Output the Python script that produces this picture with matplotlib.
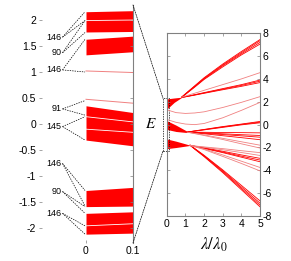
import matplotlib.pyplot as plt
from matplotlib.patches import Rectangle, ConnectionPatch

plt.rcParams['font.family'] = ['Liberation Sans', 'DejaVu Sans']
plt.rcParams['mathtext.fontset'] = 'stix'

RED = '#ff0000'
LIGHT = '#f08080'

# left panel: bands at lambda = 0 (edges at x=0 and x=0.1)
band_x = [0, 0.1]
band_top = [(2.16, 2.18), (1.63, 1.69), (0.35, 0.22), (-1.28, -1.22), (-1.72, -1.69)]
band_bot = [(1.77, 1.78), (1.33, 1.39), (-0.31, -0.42), (-1.59, -1.58), (-2.12, -2.10)]
gap_lines = [(1.99, 2.00), (0.14, 0.04), (-0.10, -0.16), (-1.96, -1.92)]
single_lines = [(1.02, 0.99), (0.475, 0.40)]

# state counts and the levels they point to
count_labels = ['146', '90', '146', '91', '145', '146', '90', '146']
count_y = [1.67, 1.37, 1.04, 0.29, -0.05, -0.76, -1.30, -1.72]
count_targets = [(2.16, 1.99), (1.99, 1.76), (1.63, 1.00), (0.45, 0.17),
                 (0.14, -0.31), (-1.28, -1.58), (-1.59, -1.72), (-1.96, -2.12)]

# right panel: spectrum vs lambda/lambda0
w1_lam = [0, 0.4, 0.8]
w1_top = [2.25, 2.33, 2.40]
w1_bot = [1.35, 1.95, 2.38]
w2_lam = [0, 0.5, 1.0, 1.15]
w2_top = [0.35, -0.05, -0.50, -0.63]
w2_bot = [-0.42, -0.60, -0.68, -0.66]
w3_lam = [0, 0.5, 1.0, 1.25]
w3_top = [-1.25, -1.45, -1.68, -1.80]
w3_bot = [-2.10, -2.00, -1.88, -1.82]

lam_a = [0.8, 1, 1.5, 2, 3, 4, 5]
steep_up = [[2.40, 2.70, 3.40, 4.10, 5.30, 6.40, 7.45],
            [2.40, 2.68, 3.36, 4.05, 5.22, 6.30, 7.35],
            [2.40, 2.66, 3.32, 4.00, 5.15, 6.20, 7.20],
            [2.40, 2.64, 3.28, 3.95, 5.05, 6.10, 7.05]]
shallow_up = [[2.38, 2.45, 2.62, 2.80, 3.15, 3.50, 3.90],
              [2.38, 2.44, 2.60, 2.77, 3.10, 3.43, 3.80],
              [2.38, 2.43, 2.58, 2.74, 3.05, 3.35, 3.68]]
light_up = [[2.40, 2.50, 2.75, 3.00, 3.50, 4.00, 4.55]]

lam_b = [0, 0.5, 1, 1.5, 2, 3, 4, 5]
light_mid = [[1.30, 1.05, 0.98, 1.02, 1.12, 1.50, 1.95, 2.45],
             [0.45, 0.20, 0.05, 0.00, 0.10, 0.60, 1.25, 1.95]]

lam_c = [1.1, 2, 3, 4, 5]
mid_up = [[-0.65, -0.42, -0.17, 0.05, 0.28],
          [-0.65, -0.44, -0.20, 0.02, 0.22],
          [-0.65, -0.46, -0.24, -0.02, 0.16]]
mid_flat = [[-0.66, -0.67, -0.69, -0.70, -0.72],
            [-0.66, -0.72, -0.80, -0.88, -0.95],
            [-0.66, -0.75, -0.87, -0.98, -1.10],
            [-0.66, -0.80, -0.97, -1.14, -1.32]]
mid_light = [[-0.66, -0.90, -1.20, -1.50, -1.80],
             [-0.66, -0.95, -1.30, -1.68, -2.05]]

lam_d = [1.25, 1.5, 2, 3, 4, 5]
steep_down = [[-1.80, -2.15, -2.80, -4.20, -5.70, -7.20],
              [-1.80, -2.13, -2.76, -4.12, -5.58, -7.05],
              [-1.80, -2.11, -2.72, -4.04, -5.46, -6.88],
              [-1.80, -2.09, -2.68, -3.96, -5.32, -6.68]]
mod_down = [[-1.82, -1.90, -2.08, -2.45, -2.85, -3.25],
            [-1.82, -1.90, -2.06, -2.40, -2.76, -3.10],
            [-1.82, -1.89, -2.03, -2.33, -2.65, -2.95]]
light_down = [[-1.82, -1.88, -1.98, -2.20, -2.44, -2.70],
              [-1.82, -1.87, -1.95, -2.10, -2.28, -2.45],
              [-1.82, -1.92, -2.13, -2.65, -3.20, -3.75],
              [-1.82, -1.93, -2.18, -2.78, -3.40, -4.05]]

fig = plt.figure(figsize=(2.91, 2.61), dpi=100)
ax1 = fig.add_axes([0.134, 0.069, 0.323, 0.912])
ax2 = fig.add_axes([0.573, 0.172, 0.321, 0.701])

# ---- left panel
for top, bot in zip(band_top, band_bot):
    ax1.fill_between(band_x, top, bot, color=RED, lw=0)
for ln in gap_lines:
    ax1.plot(band_x, ln, color='white', lw=0.6)
for ln in single_lines:
    ax1.plot(band_x, ln, color=LIGHT, lw=0.7)

for lab, y, tg in zip(count_labels, count_y, count_targets):
    ax1.text(-0.052, y, lab, fontsize=6.5, ha='right', va='center')
    for t in tg:
        ax1.plot([-0.05, -0.002], [y, t], color='black', lw=0.5, ls=(0, (2, 1.5)))

ax1.set_xlim(-0.1, 0.1)
ax1.set_ylim(-2.29, 2.29)
for s in ['left', 'top', 'bottom']:
    ax1.spines[s].set_visible(False)
ax1.spines['right'].set_color('#808080')
ax1.spines['right'].set_linewidth(0.8)
yt = [2, 1.5, 1, 0.5, 0, -0.5, -1, -1.5, -2]
ax1.set_yticks(yt)
ax1.set_yticklabels(['2', '1.5', '1', '0.5', '0', '-0.5', '-1', '-1.5', '-2'])
ax1.set_xticks([0, 0.1])
ax1.set_xticklabels(['0', '0.1'])
ax1.tick_params(direction='in', length=2, width=0.5, color='#808080',
                labelsize=7.5, right=True, pad=2)

# ---- right panel
ax2.fill_between(w1_lam, w1_top, w1_bot, color=RED, lw=0)
ax2.fill_between(w2_lam, w2_top, w2_bot, color=RED, lw=0)
ax2.fill_between(w3_lam, w3_top, w3_bot, color=RED, lw=0)
for e in steep_up + shallow_up:
    ax2.plot(lam_a, e, color=RED, lw=0.6)
for e in light_up:
    ax2.plot(lam_a, e, color=LIGHT, lw=0.6)
for e in light_mid:
    ax2.plot(lam_b, e, color=LIGHT, lw=0.6)
for e in mid_up + mid_flat:
    ax2.plot(lam_c, e, color=RED, lw=0.6)
for e in mid_light:
    ax2.plot(lam_c, e, color=LIGHT, lw=0.6)
for e in steep_down + mod_down:
    ax2.plot(lam_d, e, color=RED, lw=0.6)
for e in light_down:
    ax2.plot(lam_d, e, color=LIGHT, lw=0.6)

ax2.set_xlim(0, 5)
ax2.set_ylim(-8, 8)
ax2.set_xticks(range(6))
ax2.set_yticks(range(-8, 9, 2))
ax2.set_yticklabels([str(v).replace('\u2212', '-') for v in range(-8, 9, 2)])
ax2.yaxis.tick_right()
ax2.tick_params(direction='in', length=2, width=0.5, color='#808080',
                labelsize=7.5, left=True, right=True, top=True, bottom=True, pad=2)
for s in ax2.spines.values():
    s.set_color('#808080')
    s.set_linewidth(0.8)

ax2.add_patch(Rectangle((-0.2, -2.3), 0.3, 4.6, fill=False, ec='black', lw=0.5,
                        ls=(0, (2, 1.5)), clip_on=False))
for ya, yb in [(2.29, 2.3), (-2.29, -2.3)]:
    con = ConnectionPatch(xyA=(0.1, ya), coordsA=ax1.transData,
                          xyB=(-0.2, yb), coordsB=ax2.transData,
                          color='black', lw=0.5, ls=(0, (2, 1.5)))
    fig.add_artist(con)

fig.text(0.733, 0.061, r'$\lambda/\lambda_0$', fontsize=12, ha='center', va='center')
fig.text(0.519, 0.525, r'$E$', fontsize=11, ha='center', va='center')

fig.savefig('out.png', dpi=100)
